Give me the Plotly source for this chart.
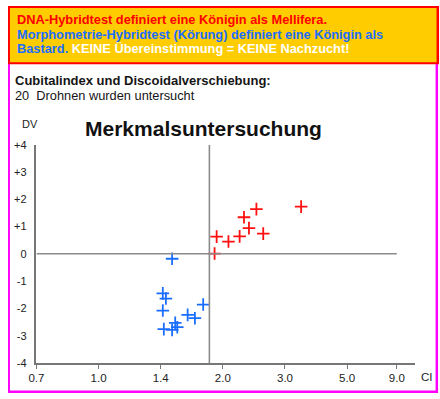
import numpy as np
import plotly.graph_objects as go

# ---- data ----
tick_ci = [0.7, 1.0, 1.4, 2.0, 3.0, 5.0, 9.0]
tick_labels = ["0.7", "1.0", "1.4", "2.0", "3.0", "5.0", "9.0"]
tick_pos = [0, 1, 2, 3, 4, 5, 5.8]          # non-uniform CI scale of the printed form
dv_ticks = [-4, -3, -2, -1, 0, 1, 2, 3, 4]
dv_labels = ["-4", "-3", "-2", "-1", "0", "+1", "+2", "+3", "+4"]

red_ci = [3.52, 2.54, 2.34, 2.42, 2.65, 2.27, 1.94, 2.09, 1.92]
red_dv = [1.73, 1.64, 1.34, 0.94, 0.74, 0.64, 0.63, 0.45, 0.01]
blue_ci = [1.51, 1.42, 1.45, 1.81, 1.42, 1.66, 1.73, 1.54, 1.56, 1.43, 1.51]
blue_dv = [-0.18, -1.45, -1.64, -1.86, -2.08, -2.24, -2.36, -2.53, -2.69, -2.76, -2.79]
ci_divider = 1.87
ci_zero_end = 9.0


def ci_scale(v):
    return np.interp(v, tick_ci, tick_pos)


W, H = 440, 399


def px(x):
    return x / W


def py(y):
    return 1 - y / H


fig = go.Figure()
fig.add_trace(go.Scatter(
    x=ci_scale(red_ci), y=red_dv, mode="markers",
    marker=dict(symbol="cross-thin", size=9, line=dict(width=1.8, color="#FF1010")),
    hoverinfo="skip"))
fig.add_trace(go.Scatter(
    x=ci_scale(blue_ci), y=blue_dv, mode="markers",
    marker=dict(symbol="cross-thin", size=9, line=dict(width=1.8, color="#1A6EFF")),
    hoverinfo="skip"))

shapes = [
    # magenta frame
    dict(type="rect", xref="paper", yref="paper", x0=px(0), x1=px(438), y0=py(399), y1=py(57),
         fillcolor="#FF00FF", line=dict(width=0), layer="below"),
    dict(type="rect", xref="paper", yref="paper", x0=px(2), x1=px(435.5), y0=py(396.5), y1=py(57),
         fillcolor="white", line=dict(width=0), layer="below"),
    # header box
    dict(type="rect", xref="paper", yref="paper", x0=px(0), x1=px(439), y0=py(60), y1=py(0),
         fillcolor="#FF0000", line=dict(width=0), layer="below"),
    dict(type="rect", xref="paper", yref="paper", x0=px(2), x1=px(436.5), y0=py(58), y1=py(2),
         fillcolor="#FFCC00", line=dict(width=0), layer="below"),
    # zero line and divider
    dict(type="line", xref="x", yref="y", x0=0, x1=float(ci_scale(ci_zero_end)), y0=0, y1=0,
         line=dict(color="#8c8c8c", width=1.6)),
    dict(type="line", xref="x", yref="y", x0=float(ci_scale(ci_divider)), x1=float(ci_scale(ci_divider)),
         y0=-4, y1=4, line=dict(color="#8c8c8c", width=1.6)),
]

hdr_font = "Liberation Sans"
annotations = [
    dict(text="<b>DNA-Hybridtest definiert eine Königin als Mellifera.</b>", x=px(7), y=py(14),
         font=dict(family=hdr_font, size=12.8, color="#FF0000")),
    dict(text="<b>Morphometrie-Hybridtest (Körung) definiert eine Königin als</b>", x=px(7), y=py(29),
         font=dict(family=hdr_font, size=12.8, color="#1A6EFF")),
    dict(text="<b>Bastard.</b> <b><span style='color:#FFFFFF'>KEINE Übereinstimmung = KEINE Nachzucht!</span></b>",
         x=px(7), y=py(44), font=dict(family=hdr_font, size=12.8, color="#1A6EFF")),
    dict(text="<b>Cubitalindex und Discoidalverschiebung:</b>", x=px(5), y=py(77),
         font=dict(family="Liberation Sans", size=13, color="#151515")),
    dict(text="20  Drohnen wurden untersucht", x=px(5), y=py(92),
         font=dict(family="Liberation Sans", size=12.8, color="#151515")),
    dict(text="<b>Merkmalsuntersuchung</b>", x=px(199), y=py(126), xanchor="center",
         font=dict(family="Liberation Sans", size=21, color="#111111")),
    dict(text="DV", x=px(12), y=py(122),
         font=dict(family="Liberation Sans", size=11, color="#222222")),
    dict(text="CI", x=px(419), y=py(383),
         font=dict(family="Liberation Sans", size=11.5, color="#222222")),
]
for a in annotations:
    a.setdefault("xanchor", "left")
    a.update(xref="paper", yref="paper", yanchor="middle", showarrow=False)

fig.update_layout(
    width=W, height=H,
    margin=dict(l=0, r=0, t=0, b=0),
    paper_bgcolor="white", plot_bgcolor="rgba(0,0,0,0)",
    showlegend=False,
    shapes=shapes, annotations=annotations,
    xaxis=dict(domain=[px(29), px(415)], range=[0, 6.1],
               tickvals=tick_pos, ticktext=tick_labels,
               showgrid=False, zeroline=False, showline=True, linecolor="#777777", linewidth=1.5,
               ticks="outside", ticklen=4, tickcolor="#777777", tickwidth=1,
               tickfont=dict(family="Liberation Sans", size=11.5, color="#222222"), fixedrange=True),
    yaxis=dict(domain=[py(368), py(143)], range=[-4, 4],
               tickvals=dv_ticks, ticktext=dv_labels,
               showgrid=False, zeroline=False, showline=True, linecolor="#777777", linewidth=1.5,
               ticks="", ticklabelstandoff=6,
               tickfont=dict(family="Liberation Sans", size=11, color="#222222"), fixedrange=True),
)

post = (
    "document.documentElement.style.margin='0';"
    "document.documentElement.style.padding='0';"
    "document.body.style.margin='0';"
    "document.body.style.padding='0';"
    "document.body.style.overflow='hidden';"
    "var g=document.querySelector('.plotly-graph-div');"
    "if(g){g.style.position='fixed';g.style.left='0px';g.style.top='0px';}"
)
fig.write_html("out.html", config={"displayModeBar": False}, post_script=post)
